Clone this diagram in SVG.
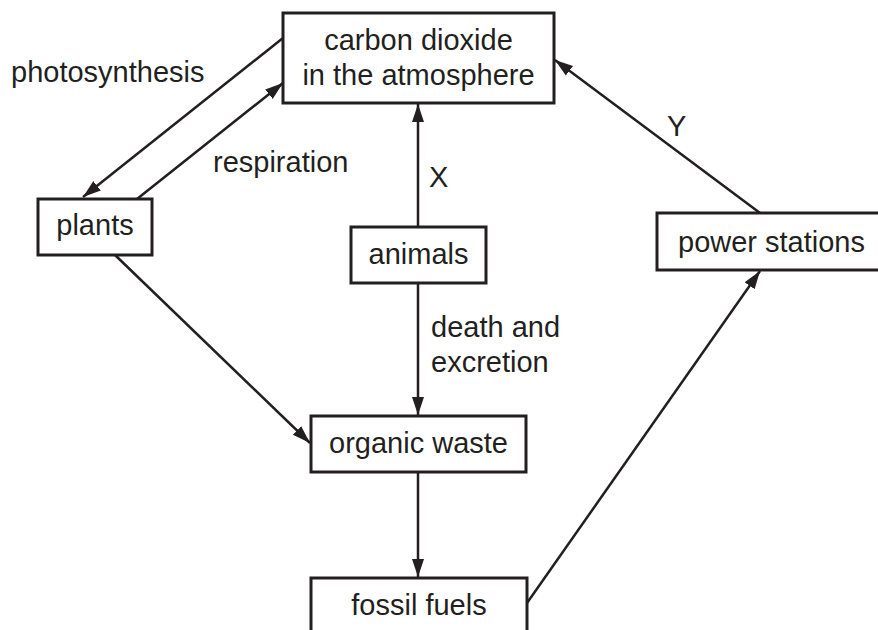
<svg xmlns="http://www.w3.org/2000/svg" width="878" height="630" viewBox="0 0 878 630">
<style>
.box{fill:#fff;stroke:#231f20;stroke-width:3}
.t{font-family:"Liberation Sans",Arial,sans-serif;font-size:29px;fill:#231f20}
.m{text-anchor:middle}
.c{fill:none;stroke:#231f20;stroke-width:2.5}
</style>
<defs>
<marker id="ah" markerUnits="userSpaceOnUse" markerWidth="20" markerHeight="14" refX="18" refY="6.5" orient="auto">
<path d="M0,0.5 L18,6.5 L0,12.5 z" fill="#231f20"/>
</marker>
</defs>
<rect width="878" height="630" fill="#fff"/>
<g id="connectors">
<line class="c" x1="283" y1="38" x2="83" y2="197" marker-end="url(#ah)"/>
<line class="c" x1="137" y1="199" x2="283" y2="83" marker-end="url(#ah)"/>
<line class="c" x1="418" y1="227" x2="418" y2="104" marker-end="url(#ah)"/>
<line class="c" x1="418" y1="283" x2="418" y2="415" marker-end="url(#ah)"/>
<line class="c" x1="115" y1="255" x2="310" y2="443" marker-end="url(#ah)"/>
<line class="c" x1="418" y1="472" x2="418" y2="577" marker-end="url(#ah)"/>
<line class="c" x1="527" y1="603" x2="760" y2="271" marker-end="url(#ah)"/>
<line class="c" x1="760" y1="213" x2="555" y2="60" marker-end="url(#ah)"/>
</g>
<g id="labels">
<text class="t" x="11" y="82">photosynthesis</text>
<text class="t" x="213" y="172">respiration</text>
<text class="t" x="429" y="187">X</text>
<text class="t" x="667" y="136">Y</text>
<text class="t" x="431" y="337">death and</text>
<text class="t" x="431" y="372">excretion</text>
</g>
<g id="co2">
<rect class="box" x="283" y="13" width="271" height="90"/>
<text class="t m" x="418.5" y="50">carbon dioxide</text>
<text class="t m" x="418.5" y="85">in the atmosphere</text>
</g>
<g id="plants">
<rect class="box" x="38" y="199" width="114" height="56"/>
<text class="t m" x="95" y="235">plants</text>
</g>
<g id="animals">
<rect class="box" x="351" y="227" width="135" height="56"/>
<text class="t m" x="418.5" y="264">animals</text>
</g>
<g id="power-stations">
<rect class="box" x="657" y="213" width="224" height="57"/>
<text class="t" x="678" y="252">power stations</text>
</g>
<g id="organic-waste">
<rect class="box" x="311" y="416" width="215" height="56"/>
<text class="t m" x="418.5" y="453">organic waste</text>
</g>
<g id="fossil-fuels">
<rect class="box" x="311" y="578" width="216" height="60"/>
<text class="t m" x="419" y="615">fossil fuels</text>
</g>
</svg>
